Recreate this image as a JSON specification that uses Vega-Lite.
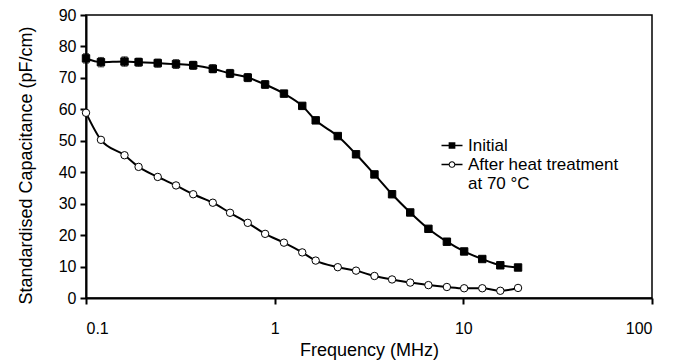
{
  "$schema": "https://vega.github.io/schema/vega-lite/v6.json",
  "width": 566,
  "height": 283,
  "autosize": {"type": "none"},
  "padding": {"left": 86, "top": 15, "right": 29, "bottom": 65},
  "config": {
    "font": "Liberation Sans",
    "view": {"stroke": "black", "strokeWidth": 1.5},
    "axis": {
      "grid": false,
      "domainColor": "black",
      "domainWidth": 2,
      "tickColor": "black",
      "tickWidth": 2,
      "tickSize": 6,
      "labelColor": "black",
      "labelFontSize": 16,
      "titleColor": "black",
      "titleFontSize": 18,
      "titleFontWeight": "normal"
    }
  },
  "data": {
    "values": [
      {"series": "Initial", "f": 0.1, "v": 76.2, "err": 1.5},
      {"series": "Initial", "f": 0.12, "v": 75.0, "err": 1.5},
      {"series": "Initial", "f": 0.16, "v": 75.2, "err": 1.5},
      {"series": "Initial", "f": 0.19, "v": 75.0, "err": 1.3},
      {"series": "Initial", "f": 0.24, "v": 74.7, "err": 1.3},
      {"series": "Initial", "f": 0.30, "v": 74.4, "err": 1.4},
      {"series": "Initial", "f": 0.37, "v": 74.0, "err": 1.3},
      {"series": "Initial", "f": 0.47, "v": 72.9, "err": 1.3},
      {"series": "Initial", "f": 0.58, "v": 71.4, "err": 1.3},
      {"series": "Initial", "f": 0.72, "v": 70.1, "err": 1.3},
      {"series": "Initial", "f": 0.89, "v": 67.9, "err": 1.2},
      {"series": "Initial", "f": 1.12, "v": 65.0, "err": 1.0},
      {"series": "Initial", "f": 1.40, "v": 61.1, "err": 0.8},
      {"series": "Initial", "f": 1.65, "v": 56.5, "err": 0.8},
      {"series": "Initial", "f": 2.16, "v": 51.5, "err": 0.6},
      {"series": "Initial", "f": 2.70, "v": 45.7, "err": 0.6},
      {"series": "Initial", "f": 3.38, "v": 39.3, "err": 0.5},
      {"series": "Initial", "f": 4.19, "v": 33.0, "err": 0.5},
      {"series": "Initial", "f": 5.23, "v": 27.2, "err": 0.5},
      {"series": "Initial", "f": 6.53, "v": 22.0, "err": 0.4},
      {"series": "Initial", "f": 8.18, "v": 17.9, "err": 0.4},
      {"series": "Initial", "f": 10.1, "v": 14.8, "err": 0.4},
      {"series": "Initial", "f": 12.6, "v": 12.4, "err": 0.3},
      {"series": "Initial", "f": 15.7, "v": 10.4, "err": 0.3},
      {"series": "Initial", "f": 19.5, "v": 9.7, "err": 0.3},
      {"series": "After heat treatment at 70 °C", "f": 0.1, "v": 58.9},
      {"series": "After heat treatment at 70 °C", "f": 0.12, "v": 50.3},
      {"series": "After heat treatment at 70 °C", "f": 0.16, "v": 45.4},
      {"series": "After heat treatment at 70 °C", "f": 0.19, "v": 41.7},
      {"series": "After heat treatment at 70 °C", "f": 0.24, "v": 38.5},
      {"series": "After heat treatment at 70 °C", "f": 0.30, "v": 35.8},
      {"series": "After heat treatment at 70 °C", "f": 0.37, "v": 33.0},
      {"series": "After heat treatment at 70 °C", "f": 0.47, "v": 30.3},
      {"series": "After heat treatment at 70 °C", "f": 0.58, "v": 27.1},
      {"series": "After heat treatment at 70 °C", "f": 0.72, "v": 23.9},
      {"series": "After heat treatment at 70 °C", "f": 0.89, "v": 20.4},
      {"series": "After heat treatment at 70 °C", "f": 1.12, "v": 17.6},
      {"series": "After heat treatment at 70 °C", "f": 1.40, "v": 14.5},
      {"series": "After heat treatment at 70 °C", "f": 1.65, "v": 11.9},
      {"series": "After heat treatment at 70 °C", "f": 2.16, "v": 9.8},
      {"series": "After heat treatment at 70 °C", "f": 2.70, "v": 8.7},
      {"series": "After heat treatment at 70 °C", "f": 3.38, "v": 7.0},
      {"series": "After heat treatment at 70 °C", "f": 4.19, "v": 5.9},
      {"series": "After heat treatment at 70 °C", "f": 5.23, "v": 4.9},
      {"series": "After heat treatment at 70 °C", "f": 6.53, "v": 4.1},
      {"series": "After heat treatment at 70 °C", "f": 8.18, "v": 3.5},
      {"series": "After heat treatment at 70 °C", "f": 10.1, "v": 3.1},
      {"series": "After heat treatment at 70 °C", "f": 12.6, "v": 3.1},
      {"series": "After heat treatment at 70 °C", "f": 15.7, "v": 2.3},
      {"series": "After heat treatment at 70 °C", "f": 19.5, "v": 3.2}
    ]
  },
  "encoding": {
    "x": {
      "field": "f",
      "type": "quantitative",
      "scale": {"type": "log", "domain": [0.1, 100], "nice": false},
      "axis": {
        "title": "Frequency (MHz)",
        "values": [0.1, 1, 10, 100],
        "format": "~g",
        "labelPadding": 16,
        "titleY": 43,
        "titleBaseline": "top"
      }
    },
    "y": {
      "field": "v",
      "type": "quantitative",
      "scale": {"domain": [0, 90], "nice": false},
      "axis": {
        "title": "Standardised Capacitance (pF/cm)",
        "values": [0, 10, 20, 30, 40, 50, 60, 70, 80, 90],
        "labelPadding": 4,
        "titleX": -60,
        "titleY": 150,
        "titleBaseline": "middle"
      }
    }
  },
  "layer": [
    {
      "mark": {"type": "point", "filled": true, "fill": "black", "strokeWidth": 0, "opacity": 1, "size": 0},
      "encoding": {
        "shape": {
          "field": "series",
          "type": "nominal",
          "scale": {
            "domain": ["Initial", "After heat treatment at 70 °C"],
            "range": [
              "M-1,-0.07H-0.32V0.07H-1ZM0.32,-0.07H1V0.07H0.32ZM-0.32,-0.32H0.32V0.32H-0.32Z",
              "M-1,-0.07H-0.31V0.07H-1ZM0.31,-0.07H1V0.07H0.31ZM0.32,0A0.32,0.32,0,1,1,-0.32,0A0.32,0.32,0,1,1,0.32,0ZM0.22,0A0.22,0.22,0,1,0,-0.22,0A0.22,0.22,0,1,0,0.22,0Z"
            ]
          },
          "legend": {
            "title": null,
            "orient": "none",
            "legendX": 355.5,
            "legendY": 120,
            "padding": 0,
            "symbolSize": 441,
            "symbolOpacity": 1,
            "symbolFillColor": "black",
            "symbolStrokeWidth": 0,
            "labelFontSize": 17,
            "labelColor": "black",
            "labelOffset": 5.5,
            "labelLimit": 0,
            "rowPadding": -2,
            "labelExpr": "datum.label === 'Initial' ? 'Initial' : ['After heat treatment', '\u00a0at 70 °C']"
          }
        }
      }
    },
    {
      "mark": {"type": "line", "color": "black", "strokeWidth": 2, "interpolate": "monotone"},
      "encoding": {"detail": {"field": "series"}}
    },
    {
      "transform": [{"filter": "datum.series === 'Initial'"}],
      "mark": {"type": "errorbar", "color": "black", "thickness": 1, "ticks": {"size": 6, "color": "black"}},
      "encoding": {"yError": {"field": "err"}}
    },
    {
      "transform": [{"filter": "datum.series === 'Initial'"}],
      "mark": {"type": "point", "shape": "square", "filled": true, "fill": "black", "stroke": "black", "strokeWidth": 1, "opacity": 1, "size": 55}
    },
    {
      "transform": [{"filter": "datum.series !== 'Initial'"}],
      "mark": {"type": "point", "shape": "circle", "filled": true, "fill": "white", "stroke": "black", "strokeWidth": 1, "opacity": 1, "size": 55}
    }
  ]
}
